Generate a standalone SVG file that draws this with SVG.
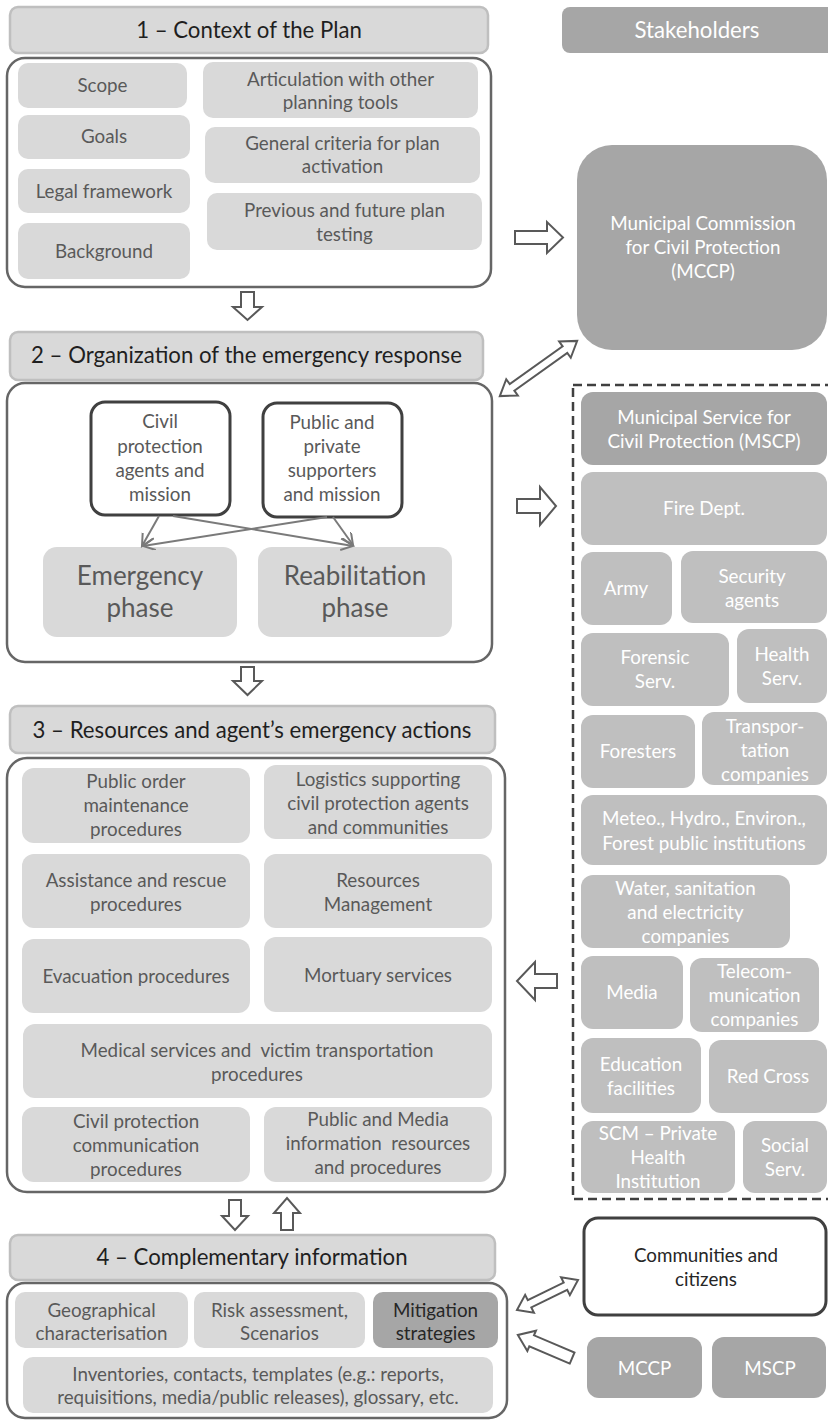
<svg xmlns="http://www.w3.org/2000/svg" width="828" height="1421" viewBox="0 0 828 1421">
<style>
text{font-family:Lato,"Liberation Sans",sans-serif;text-anchor:middle}
.hdr{fill:#d9d9d9;stroke:#bfbfbf;stroke-width:2.5}
.ht{font-size:22.2px;fill:#1f1f1f}
.body{fill:#fff;stroke:#666;stroke-width:2.5}
.box{fill:#d9d9d9}
.t{font-size:18.8px;fill:#595959}
.big{font-size:26px;fill:#595959}
.bold{fill:#fff;stroke:#404040;stroke-width:3}
.dk{fill:#a6a6a6}
.lt{fill:#bfbfbf}
.w{font-size:18.8px;fill:#fff}
.k{font-size:18.8px;fill:#262626}
.ha{fill:#fff;stroke:#595959;stroke-width:2;stroke-linejoin:miter}
.ln{stroke:#7a7a7a;stroke-width:2;fill:none}
</style>
<defs>
<marker id="chev" markerUnits="userSpaceOnUse" markerWidth="16" markerHeight="16" refX="12" refY="6" orient="auto">
<path d="M0,0 L12,6 L0,12" fill="none" stroke="#7a7a7a" stroke-width="2"/>
</marker>
</defs>

<!-- Section 1 -->
<g id="sec1-header"><rect class="hdr" x="10" y="7" width="478" height="46" rx="8"/><text class="ht" x="249" y="38">1 – Context of the Plan</text></g>
<g id="sec1-body"><rect class="body" x="7" y="58" width="484" height="229" rx="18"/></g>
<g id="scope"><rect class="box" x="18" y="63" width="169" height="45" rx="10"/><text class="t" x="102.5" y="92">Scope</text></g>
<g id="goals"><rect class="box" x="18" y="115" width="172" height="44" rx="10"/><text class="t" x="104" y="143">Goals</text></g>
<g id="legal"><rect class="box" x="18" y="169" width="172" height="44" rx="10"/><text class="t" x="104" y="198">Legal framework</text></g>
<g id="background"><rect class="box" x="18" y="223" width="172" height="56" rx="10"/><text class="t" x="104" y="258">Background</text></g>
<g id="articulation"><rect class="box" x="203" y="62" width="275" height="56" rx="10"/><text class="t" x="340.5" y="86">Articulation with other<tspan x="340.5" y="109">planning tools</tspan></text></g>
<g id="criteria"><rect class="box" x="205" y="127" width="275" height="56" rx="10"/><text class="t" x="342.5" y="150">General criteria for plan<tspan x="342.5" y="173">activation</tspan></text></g>
<g id="testing"><rect class="box" x="207" y="193" width="275" height="57" rx="10"/><text class="t" x="344.5" y="217">Previous and future plan<tspan x="344.5" y="241">testing</tspan></text></g>

<!-- Stakeholders column -->
<g id="stakeholders"><rect class="dk" x="562" y="7" width="275" height="46" rx="8"/><text class="ht" x="697" y="38" style="fill:#fff">Stakeholders</text></g>
<g id="mccp"><rect class="dk" x="577" y="145" width="250" height="205" rx="35"/><text class="w" x="703" y="230">Municipal Commission<tspan x="703" y="254">for Civil Protection</tspan><tspan x="703" y="278">(MCCP)</tspan></text></g>

<!-- Section 2 -->
<g id="sec2-header"><rect class="hdr" x="10" y="332" width="473" height="48" rx="8"/><text class="ht" x="246.5" y="363">2 – Organization of the emergency response</text></g>
<g id="sec2-body"><rect class="body" x="7" y="383" width="485" height="279" rx="18"/></g>
<g id="civil-agents"><rect class="bold" x="91" y="402" width="139" height="113" rx="14"/><text class="t" x="160" y="428">Civil<tspan x="160" y="453">protection</tspan><tspan x="160" y="477">agents and</tspan><tspan x="160" y="501">mission</tspan></text></g>
<g id="supporters"><rect class="bold" x="263" y="403" width="139" height="114" rx="14"/><text class="t" x="332" y="429">Public and<tspan x="332" y="453">private</tspan><tspan x="332" y="477">supporters</tspan><tspan x="332" y="501">and mission</tspan></text></g>
<g id="emergency-phase"><rect class="box" x="43" y="547" width="194" height="90" rx="14"/><text class="big" x="140" y="585">Emergency<tspan x="140" y="617">phase</tspan></text></g>
<g id="reab-phase"><rect class="box" x="258" y="547" width="194" height="90" rx="14"/><text class="big" x="355" y="585">Reabilitation<tspan x="355" y="617">phase</tspan></text></g>

<!-- Dashed stakeholder group -->
<g id="agents-group"><rect x="573" y="385" width="270" height="814" fill="none" stroke="#404040" stroke-width="2.5" stroke-dasharray="9 5"/></g>
<g id="mscp"><rect class="dk" x="581" y="392" width="246" height="73" rx="12"/><text class="w" x="704" y="424">Municipal Service for<tspan x="704" y="448">Civil Protection (MSCP)</tspan></text></g>
<g id="fire"><rect class="lt" x="581" y="472" width="246" height="73" rx="12"/><text class="w" x="704" y="515">Fire Dept.</text></g>
<g id="army"><rect class="lt" x="581" y="552" width="91" height="73" rx="12"/><text class="w" x="626" y="595">Army</text></g>
<g id="security"><rect class="lt" x="681" y="551" width="146" height="72" rx="12"/><text class="w" x="752" y="583">Security<tspan x="752" y="607">agents</tspan></text></g>
<g id="forensic"><rect class="lt" x="581" y="633" width="148" height="73" rx="12"/><text class="w" x="655" y="664">Forensic<tspan x="655" y="688">Serv.</tspan></text></g>
<g id="health"><rect class="lt" x="737" y="629" width="90" height="74" rx="12"/><text class="w" x="782" y="661">Health<tspan x="782" y="685">Serv.</tspan></text></g>
<g id="foresters"><rect class="lt" x="581" y="715" width="114" height="73" rx="12"/><text class="w" x="638" y="758">Foresters</text></g>
<g id="transport"><rect class="lt" x="702" y="712" width="125" height="73" rx="12"/><text class="w" x="765" y="733">Transpor-<tspan x="765" y="757">tation</tspan><tspan x="765" y="781">companies</tspan></text></g>
<g id="meteo"><rect class="lt" x="581" y="795" width="246" height="70" rx="12"/><text class="w" x="704" y="825">Meteo., Hydro., Environ.,<tspan x="704" y="850">Forest public institutions</tspan></text></g>
<g id="water"><rect class="lt" x="581" y="875" width="209" height="73" rx="12"/><text class="w" x="685.5" y="895">Water, sanitation<tspan x="685.5" y="919">and electricity</tspan><tspan x="685.5" y="943">companies</tspan></text></g>
<g id="media"><rect class="lt" x="581" y="956" width="102" height="73" rx="12"/><text class="w" x="632" y="999">Media</text></g>
<g id="telecom"><rect class="lt" x="690" y="958" width="129" height="74" rx="12"/><text class="w" x="754.5" y="978">Telecom-<tspan x="754.5" y="1002">munication</tspan><tspan x="754.5" y="1026">companies</tspan></text></g>
<g id="education"><rect class="lt" x="581" y="1038" width="120" height="75" rx="12"/><text class="w" x="641" y="1071">Education<tspan x="641" y="1095">facilities</tspan></text></g>
<g id="redcross"><rect class="lt" x="709" y="1040" width="118" height="73" rx="12"/><text class="w" x="768" y="1083">Red Cross</text></g>
<g id="scm"><rect class="lt" x="581" y="1121" width="154" height="72" rx="12"/><text class="w" x="658" y="1140">SCM – Private<tspan x="658" y="1164">Health</tspan><tspan x="658" y="1188">Institution</tspan></text></g>
<g id="social"><rect class="lt" x="743" y="1121" width="84" height="72" rx="12"/><text class="w" x="785" y="1152">Social<tspan x="785" y="1176">Serv.</tspan></text></g>

<!-- Section 3 -->
<g id="sec3-header"><rect class="hdr" x="10" y="706" width="485" height="47" rx="8"/><text class="ht" x="252" y="738">3 – Resources and agent’s emergency actions</text></g>
<g id="sec3-body"><rect class="body" x="7" y="758" width="498" height="434" rx="20"/></g>
<g id="public-order"><rect class="box" x="22" y="768" width="228" height="75" rx="12"/><text class="t" x="136" y="788">Public order<tspan x="136" y="812">maintenance</tspan><tspan x="136" y="836">procedures</tspan></text></g>
<g id="logistics"><rect class="box" x="264" y="765" width="228" height="74" rx="12"/><text class="t" x="378" y="786">Logistics supporting<tspan x="378" y="810">civil protection agents</tspan><tspan x="378" y="834">and communities</tspan></text></g>
<g id="assistance"><rect class="box" x="22" y="854" width="228" height="74" rx="12"/><text class="t" x="136" y="887">Assistance and rescue<tspan x="136" y="911">procedures</tspan></text></g>
<g id="resources"><rect class="box" x="264" y="854" width="228" height="74" rx="12"/><text class="t" x="378" y="887">Resources<tspan x="378" y="911">Management</tspan></text></g>
<g id="evacuation"><rect class="box" x="22" y="939" width="228" height="74" rx="12"/><text class="t" x="136" y="983">Evacuation procedures</text></g>
<g id="mortuary"><rect class="box" x="264" y="937" width="228" height="75" rx="12"/><text class="t" x="378" y="982">Mortuary services</text></g>
<g id="medical"><rect class="box" x="23" y="1024" width="469" height="74" rx="12"/><text class="t" x="257" y="1057" xml:space="preserve">Medical services and  victim transportation<tspan x="257" y="1081">procedures</tspan></text></g>
<g id="cp-comm"><rect class="box" x="22" y="1107" width="228" height="75" rx="12"/><text class="t" x="136" y="1128">Civil protection<tspan x="136" y="1152">communication</tspan><tspan x="136" y="1176">procedures</tspan></text></g>
<g id="media-info"><rect class="box" x="264" y="1107" width="228" height="75" rx="12"/><text class="t" x="378" y="1126">Public and Media<tspan x="378" y="1150" xml:space="preserve">information  resources</tspan><tspan x="378" y="1174">and procedures</tspan></text></g>

<!-- Section 4 -->
<g id="sec4-header"><rect class="hdr" x="10" y="1235" width="485" height="45" rx="8"/><text class="ht" x="252" y="1265">4 – Complementary information</text></g>
<g id="sec4-body"><rect class="body" x="7" y="1283" width="500" height="135" rx="18"/></g>
<g id="geo"><rect class="box" x="15" y="1292" width="173" height="56" rx="10"/><text class="t" x="101.5" y="1317">Geographical<tspan x="101.5" y="1340">characterisation</tspan></text></g>
<g id="risk"><rect class="box" x="194" y="1292" width="171" height="56" rx="10"/><text class="t" x="279.5" y="1317">Risk assessment,<tspan x="279.5" y="1340">Scenarios</tspan></text></g>
<g id="mitigation"><rect class="dk" x="373" y="1292" width="125" height="56" rx="10"/><text class="k" x="435.5" y="1317">Mitigation<tspan x="435.5" y="1340">strategies</tspan></text></g>
<g id="inventories"><rect class="box" x="23" y="1357" width="470" height="56" rx="10"/><text class="t" x="258" y="1381">Inventories, contacts, templates (e.g.: reports,<tspan x="258" y="1404">requisitions, media/public releases), glossary, etc.</tspan></text></g>

<g id="communities"><rect class="bold" x="584" y="1218" width="242" height="97" rx="14"/><text class="k" x="706" y="1262">Communities and<tspan x="706" y="1286">citizens</tspan></text></g>
<g id="mccp-small"><rect class="dk" x="587" y="1337" width="115" height="61" rx="12"/><text class="w" x="644.5" y="1375">MCCP</text></g>
<g id="mscp-small"><rect class="dk" x="712" y="1337" width="114" height="61" rx="12"/><text class="w" x="770" y="1375">MSCP</text></g>

<!-- Connectors -->
<g id="connectors">
<polygon class="ha" points="241,292 254,292 254,307 262,307 247.5,320 233,307 241,307"/>
<polygon class="ha" points="241,667 254,667 254,681 262,681 247.5,695 233,681 241,681"/>
<polygon class="ha" points="515,231 547,231 547,222 563,237.5 547,253 547,244 515,244"/>
<polygon class="ha" points="517,499 540,499 540,487 556,506 540,525 540,513 517,513"/>
<polygon class="ha" points="557,974 535,974 535,962 517,981 535,1000 535,988 557,988"/>
<polygon class="ha" points="229,1200 241,1200 241,1216 248,1216 235,1230 222,1216 229,1216"/>
<polygon class="ha" points="281,1230 293,1230 293,1213 300,1213 287,1198 274,1213 281,1213"/>
<polygon class="ha" transform="translate(538.5,368.5) rotate(-35.5)" points="-47.5,0 -32.5,-10 -32.5,-4 32.5,-4 32.5,-10 47.5,0 32.5,10 32.5,4 -32.5,4 -32.5,10"/>
<polygon class="ha" transform="translate(547.5,1295) rotate(-26.2)" points="-34,0 -20,-10 -20,-4 20,-4 20,-10 34,0 20,10 20,4 -20,4 -20,10"/>
<polygon class="ha" transform="translate(545,1346.5) rotate(203)" points="-29.5,-6 14.5,-6 14.5,-11 29.5,0 14.5,11 14.5,6 -29.5,6"/>
<line class="ln" x1="159" y1="516" x2="142" y2="546" marker-end="url(#chev)"/>
<line class="ln" x1="173" y1="516" x2="353" y2="546" marker-end="url(#chev)"/>
<line class="ln" x1="327" y1="517" x2="143" y2="546" marker-end="url(#chev)"/>
<line class="ln" x1="333" y1="517" x2="353" y2="545" marker-end="url(#chev)"/>
</g>
</svg>
